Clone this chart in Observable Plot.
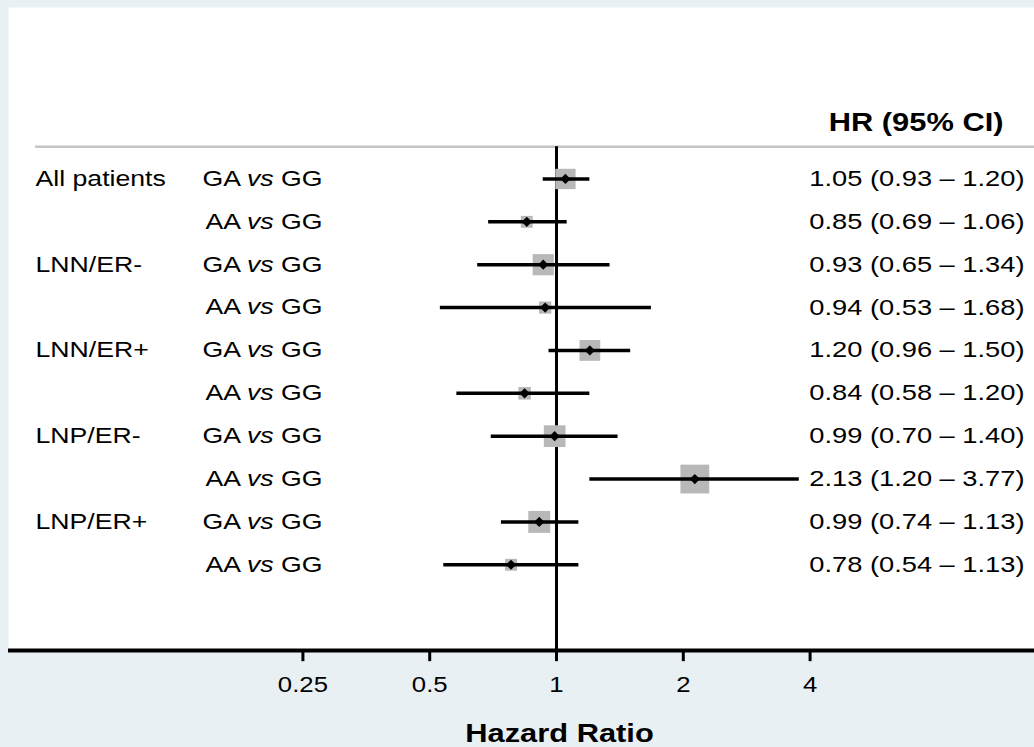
<!DOCTYPE html>
<html>
<head>
<meta charset="utf-8">
<script src="https://cdn.jsdelivr.net/npm/d3@7"></script>
<script src="https://cdn.jsdelivr.net/npm/@observablehq/plot@0.6"></script>
<style>
  html, body { margin: 0; padding: 0; background: #e9f0f3; }
  #chart svg { display: block; }
</style>
</head>
<body>
<div id="chart"></div>
<script>
// ---- data ----
const groups = ["All patients", "LNN/ER-", "LNN/ER+", "LNP/ER-", "LNP/ER+"];
const comparisons = ["GA vs GG", "AA vs GG", "GA vs GG", "AA vs GG", "GA vs GG",
                     "AA vs GG", "GA vs GG", "AA vs GG", "GA vs GG", "AA vs GG"];
// plotted point estimates (as drawn)
const hrPlotted = [1.05, 0.85, 0.93, 0.94, 1.20, 0.84, 0.99, 2.13, 0.91, 0.78];
// estimates as printed in the right column
const hrPrinted = [1.05, 0.85, 0.93, 0.94, 1.20, 0.84, 0.99, 2.13, 0.99, 0.78];
const lower = [0.93, 0.69, 0.65, 0.53, 0.96, 0.58, 0.70, 1.20, 0.74, 0.54];
const upper = [1.20, 1.06, 1.34, 1.68, 1.50, 1.20, 1.40, 3.77, 1.13, 1.13];
// relative box weights (box area), largest = 100
const weights = [50, 17, 54, 18, 52, 19, 57, 100, 58, 17];
const tickValues = [0.25, 0.5, 1, 2, 4];
const tickLabels = ["0.25", "0.5", "1", "2", "4"];
const columnTitle = "HR (95% CI)";
const axisTitle = "Hazard Ratio";

const rows = hrPlotted.map((d, i) => ({
  row: i,
  group: i % 2 === 0 ? groups[i / 2] : null,
  comparison: comparisons[i],
  hr: d,
  lower: lower[i],
  upper: upper[i],
  weight: weights[i],
  label: `${hrPrinted[i].toFixed(2)} (${lower[i].toFixed(2)} \u2013 ${upper[i].toFixed(2)})`
}));
const ticks = tickValues.map((v, i) => ({value: v, label: tickLabels[i]}));

const chart = Plot.plot({
  width: 1034,
  height: 747,
  marginTop: 7,
  marginBottom: 97,
  marginLeft: 8,
  marginRight: 0,
  style: {
    background: "#e9f0f3",
    fontFamily: "'Liberation Sans', Arial, Helvetica, sans-serif",
    color: "black",
    overflow: "visible"
  },
  x: {type: "log", domain: [0.05, 13.64], axis: null},
  y: {domain: [-4, 11], reverse: true, axis: null},
  r: {type: "sqrt", domain: [0, 100], range: [0, 16.25]},
  marks: [
    Plot.frame({fill: "white", stroke: "none"}),
    Plot.ruleY([-0.75], {stroke: "#c4c4c4", strokeWidth: 2.5, insetLeft: 27}),
    Plot.ruleX([1], {y1: -0.75, y2: 11, stroke: "black", strokeWidth: 3}),
    Plot.dot(rows, {x: "hr", y: "row", r: "weight", symbol: "square", fill: "#b8b8b8", stroke: "none"}),
    Plot.ruleY(rows, {x1: "lower", x2: "upper", y: "row", stroke: "black", strokeWidth: 3.5}),
    Plot.dot(rows, {x: "hr", y: "row", symbol: "diamond2", r: 4.6, fill: "black", stroke: "none"}),
    Plot.ruleY([11], {stroke: "black", strokeWidth: 4}),
    Plot.ruleX(ticks, {x: "value", y1: 11, y2: 11.26, stroke: "black", strokeWidth: 3}),
    Plot.text(ticks, {
      x: "value", text: "label", frameAnchor: "bottom", dy: 41,
      fontSize: 22, fill: "black"
    }),
    Plot.text(rows.filter((d) => d.group), {
      y: "row", text: "group", frameAnchor: "left", dx: 27,
      textAnchor: "start", fontSize: 21.5, fill: "black"
    }),
    Plot.text(rows, {
      y: "row", text: "comparison", frameAnchor: "left", dx: 314,
      textAnchor: "end", fontSize: 21.5, fill: "black"
    }),
    Plot.text(rows, {
      y: "row", text: "label", frameAnchor: "right", dx: -10,
      textAnchor: "end", fontSize: 22, fill: "black"
    }),
    Plot.text([columnTitle], {
      y: -1.32, frameAnchor: "right", dx: -31, textAnchor: "end",
      fontSize: 25.5, fontWeight: "bold", fill: "black"
    }),
    Plot.text([axisTitle], {
      x: 1, frameAnchor: "bottom", dx: 3, dy: 91,
      fontSize: 25.5, fontWeight: "bold", fill: "black"
    })
  ]
});

// the reference's lettering is horizontally wide; stretch each text about its anchor
chart.querySelectorAll("text").forEach((t) => {
  const s = t.textContent;
  const isTick = tickLabels.includes(s);
  const k = isTick ? 1.17 : (s === columnTitle || s === axisTitle) ? 1.21 : 1.24;
  const tr = t.getAttribute("transform") || "";
  t.setAttribute("transform", `${tr} scale(${k},1)`);
  // italic "vs"
  const m = /^(\S+) vs (\S+)$/.exec(s);
  if (m) {
    t.textContent = "";
    const ns = "http://www.w3.org/2000/svg";
    const a = document.createElementNS(ns, "tspan"); a.textContent = m[1] + " ";
    const b = document.createElementNS(ns, "tspan"); b.textContent = "vs"; b.setAttribute("font-style", "italic");
    const c = document.createElementNS(ns, "tspan"); c.textContent = " " + m[2];
    t.append(a, b, c);
  }
});

document.getElementById("chart").append(chart);
</script>
</body>
</html>
